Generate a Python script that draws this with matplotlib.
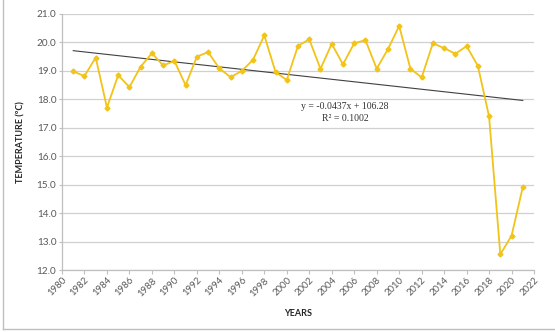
import numpy as np
import matplotlib.pyplot as plt
from matplotlib.lines import Line2D

years = list(range(1981, 2022))
temps = [18.98, 18.82, 19.47, 17.71, 18.85, 18.43, 19.15, 19.62, 19.19, 19.35,
         18.50, 19.50, 19.66, 19.09, 18.78, 19.00, 19.39, 20.25, 18.96, 18.68,
         19.88, 20.11, 19.07, 19.95, 19.23, 19.97, 20.08, 19.08, 19.76, 20.58,
         19.08, 18.77, 19.97, 19.80, 19.60, 19.87, 19.18, 17.40, 12.56, 13.21,
         14.92]
slope = -0.0437
intercept = 106.28
r2 = 0.1002

plt.rcParams['font.family'] = ['Lato', 'DejaVu Sans']

fig = plt.figure(figsize=(5.55, 3.32), dpi=100)
ax = fig.add_axes([0.1117, 0.186, 0.8505, 0.772])

ax.plot(years, temps, color='#f2c318', linewidth=1.3, marker='D',
        markersize=2.5, zorder=3)

trend_x = np.array([years[0], years[-1]])
ax.plot(trend_x, slope * trend_x + intercept, color='#404040',
        linewidth=0.8, zorder=2)

ax.text(2005.2, 17.74, f"y = {slope}x + {intercept}", ha='center', va='center',
        fontsize=7, family='Liberation Serif', color='#333333')
ax.text(2005.2, 17.33, f"R² = {r2}", ha='center', va='center',
        fontsize=7, family='Liberation Serif', color='#333333')

ax.set_xlim(1980, 2022)
ax.set_ylim(12, 21)
ax.set_xticks(range(1980, 2023, 2))
ax.set_yticks(np.arange(12, 21.5, 1))
ax.set_yticklabels([f"{v:.1f}" for v in np.arange(12, 21.5, 1)])
ax.tick_params(axis='x', labelrotation=45, labelsize=6.8, colors='#595959',
               length=3, width=0.8, color='#bfbfbf', pad=1)
ax.tick_params(axis='y', labelsize=7.2, colors='#595959', length=2,
               width=0.8, color='#bfbfbf', pad=2)
for lbl in ax.get_xticklabels():
    lbl.set_ha('right')
    lbl.set_rotation_mode('anchor')

ax.grid(axis='y', color='#d0d0d0', linewidth=0.9)
ax.set_axisbelow(True)
for side in ['top', 'right']:
    ax.spines[side].set_visible(False)
for side in ['left', 'bottom']:
    ax.spines[side].set_color('#bfbfbf')
    ax.spines[side].set_linewidth(0.9)

ax.set_xlabel('YEARS', fontsize=6.5, fontweight='bold', color='#262626',
              labelpad=8)
ax.set_ylabel('TEMPERATURE (ºC)', fontsize=6.5, fontweight='bold',
              color='#262626', labelpad=8)

# chart frame (left and bottom edges)
fig.add_artist(Line2D([0.006, 0.006], [0.009, 1.0], color='#bfbfbf', linewidth=1.0))
fig.add_artist(Line2D([0.006, 1.0], [0.009, 0.009], color='#bfbfbf', linewidth=1.0))

fig.savefig('out.png', dpi=100)
